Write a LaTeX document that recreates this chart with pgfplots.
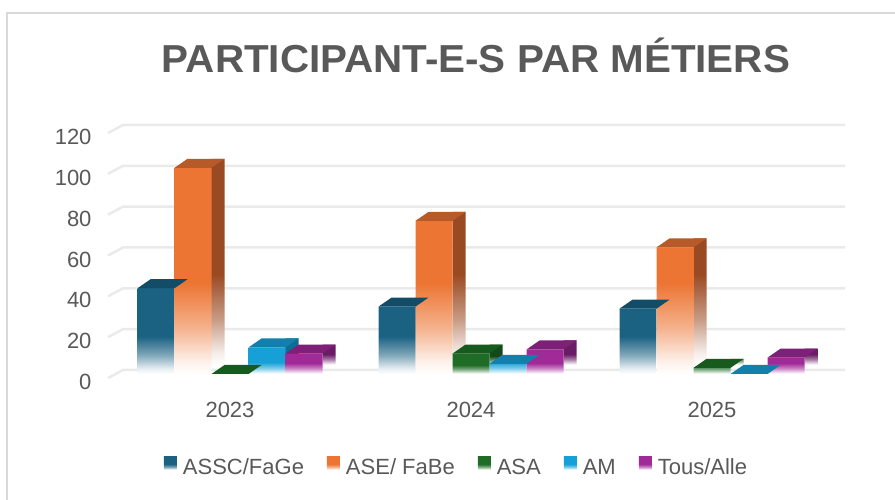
\documentclass[border=0pt]{standalone}
\usepackage{fontspec}
\setmainfont{Liberation Sans}
\usepackage{graphicx}
\usepackage{pgfplots}
\pgfplotsset{compat=1.18}
\usepackage{pgfplotstable}

\definecolor{txt}{HTML}{595959}
\definecolor{gridc}{HTML}{EAEAEA}
\definecolor{framec}{HTML}{D9D9D9}
\definecolor{aF}{HTML}{1A6182}\definecolor{aT}{HTML}{134C66}\definecolor{aS}{HTML}{0F4157}
\definecolor{bF}{HTML}{EC7533}\definecolor{bT}{HTML}{B65A2A}\definecolor{bS}{HTML}{9A4A22}
\definecolor{cF}{HTML}{1E6C26}\definecolor{cT}{HTML}{175A1E}\definecolor{cS}{HTML}{124A18}
\definecolor{dF}{HTML}{16A0D7}\definecolor{dT}{HTML}{1180AC}\definecolor{dS}{HTML}{0E6D93}
\definecolor{eF}{HTML}{A12A99}\definecolor{eT}{HTML}{7E2078}\definecolor{eS}{HTML}{6A1B65}

\newcommand\mkshade[2]{%
 \colorlet{tmp#1a}{#2!10!white}\colorlet{tmp#1b}{#2!55!white}%
 \pgfdeclareverticalshading{#1}{100bp}{color(0bp)=(white); color(25bp)=(white); color(28bp)=(tmp#1a); color(36bp)=(tmp#1b); color(47bp)=(#2); color(100bp)=(#2)}}
\mkshade{shaF}{aF}\mkshade{shaS}{aS}
\mkshade{shbF}{bF}\mkshade{shbS}{bS}
\mkshade{shcF}{cF}\mkshade{shcS}{cS}
\mkshade{shdF}{dF}\mkshade{shdS}{dS}
\mkshade{sheF}{eF}\mkshade{sheS}{eS}

\newcommand\mktop[3]{\pgfdeclareplotmark{#1}{%
 \pgfpathmoveto{\pgfpoint{(#2-18.5)*1bp}{0bp}}%
 \pgfpathlineto{\pgfpoint{(#2+18.5)*1bp}{0bp}}%
 \pgfpathlineto{\pgfpoint{(#2+31.5)*1bp}{9bp}}%
 \pgfpathlineto{\pgfpoint{(#2-5.5)*1bp}{9bp}}%
 \pgfpathclose\pgfsetfillcolor{#3}\pgfusepathqfill}}
\mktop{topA}{-74}{aT}
\mktop{topB}{-37}{bT}
\mktop{topC}{0}{cT}
\mktop{topD}{37}{dT}
\mktop{topE}{74}{eT}

\pgfplotstableread{
x A B C D E
0 42 101 0 13 10
1 33 75 10 5 12
2 32 62 3 0 8
}\data

\newcommand\legimg[1]{\shade[shading=#1] (0bp,-6.5bp) rectangle (13bp,6.5bp); \path (17bp,0bp);}

\begin{document}
\begin{tikzpicture}[font=\fontsize{22bp}{26bp}\selectfont]
\useasboundingbox (0,0) rectangle (895bp,500bp);
\begin{scope}
\clip (0,0) rectangle (895bp,500bp);
\draw[framec, line width=1.5bp] (7bp,-10bp) -- (7bp,487bp) -- (905bp,487bp);
\end{scope}
\node[anchor=base, text=txt, inner sep=0pt] at (476bp,427bp) {\fontsize{39bp}{39bp}\selectfont\bfseries\resizebox{628bp}{\height}{PARTICIPANT-E-S PAR MÉTIERS}};
\begin{axis}[
  at={(105bp,122bp)}, anchor=south west,
  scale only axis, width=740bp, height=245bp,
  xmin=-0.5187, xmax=2.5519, ymin=0, ymax=120,
  clip=false,
  axis line style={draw=none}, tick style={draw=none},
  ytick={0,20,...,120},
  xtick={0,1,2}, xticklabels={2023,2024,2025},
  ticklabel style={text=txt, font=\fontsize{22bp}{26bp}\selectfont},
  /pgf/number format/assume math mode=true,
  yticklabel style={xshift=-10bp, yshift=-4bp},
  xticklabel style={yshift=-21bp},
  legend columns=5,
  legend cell align=left,
  legend style={at={(0.475,-0.365)}, anchor=center, draw=none, fill=none,
    text=txt, font=\fontsize{22bp}{26bp}\selectfont,
    /tikz/every even column/.append style={column sep=21bp}},
]
\pgfplotsinvokeforeach{0,20,...,120}{%
  \draw[gridc, line width=2.5bp] ([xshift=3bp]axis cs:-0.5187,#1) -- ++(15bp,8bp) -- ([yshift=8bp]axis cs:2.5519,#1);
}
% ASSC/FaGe
\addplot[forget plot, ybar, bar width=13bp, bar shift=-49bp, draw=none, shade, shading=shaS, yshift=13bp] table[x=x,y=A]{\data};
\addplot[forget plot, only marks, mark=topA, yshift=4bp] table[x=x,y=A]{\data};
\addplot[ybar, bar width=37bp, bar shift=-74bp, draw=none, shade, shading=shaF, yshift=4bp,
  legend image code/.code={\legimg{shaF}}] table[x=x,y=A]{\data};
\addlegendentry{ASSC/FaGe}
% ASE/ FaBe
\addplot[forget plot, ybar, bar width=13bp, bar shift=-12bp, draw=none, shade, shading=shbS, yshift=13bp] table[x=x,y=B]{\data};
\addplot[forget plot, only marks, mark=topB, yshift=4bp] table[x=x,y=B]{\data};
\addplot[ybar, bar width=37bp, bar shift=-37bp, draw=none, shade, shading=shbF, yshift=4bp,
  legend image code/.code={\legimg{shbF}}] table[x=x,y=B]{\data};
\addlegendentry{ASE/ FaBe}
% ASA
\addplot[forget plot, ybar, bar width=13bp, bar shift=25bp, draw=none, shade, shading=shcS, yshift=13bp] table[x=x,y=C]{\data};
\addplot[forget plot, only marks, mark=topC, yshift=4bp] table[x=x,y=C]{\data};
\addplot[ybar, bar width=37bp, bar shift=0bp, draw=none, shade, shading=shcF, yshift=4bp,
  legend image code/.code={\legimg{shcF}}] table[x=x,y=C]{\data};
\addlegendentry{ASA}
% AM
\addplot[forget plot, ybar, bar width=13bp, bar shift=62bp, draw=none, shade, shading=shdS, yshift=13bp] table[x=x,y=D]{\data};
\addplot[forget plot, only marks, mark=topD, yshift=4bp] table[x=x,y=D]{\data};
\addplot[ybar, bar width=37bp, bar shift=37bp, draw=none, shade, shading=shdF, yshift=4bp,
  legend image code/.code={\legimg{shdF}}] table[x=x,y=D]{\data};
\addlegendentry{AM}
% Tous/Alle
\addplot[forget plot, ybar, bar width=13bp, bar shift=99bp, draw=none, shade, shading=sheS, yshift=13bp] table[x=x,y=E]{\data};
\addplot[forget plot, only marks, mark=topE, yshift=4bp] table[x=x,y=E]{\data};
\addplot[ybar, bar width=37bp, bar shift=74bp, draw=none, shade, shading=sheF, yshift=4bp,
  legend image code/.code={\legimg{sheF}}] table[x=x,y=E]{\data};
\addlegendentry{Tous/Alle}
\end{axis}
\end{tikzpicture}
\end{document}
